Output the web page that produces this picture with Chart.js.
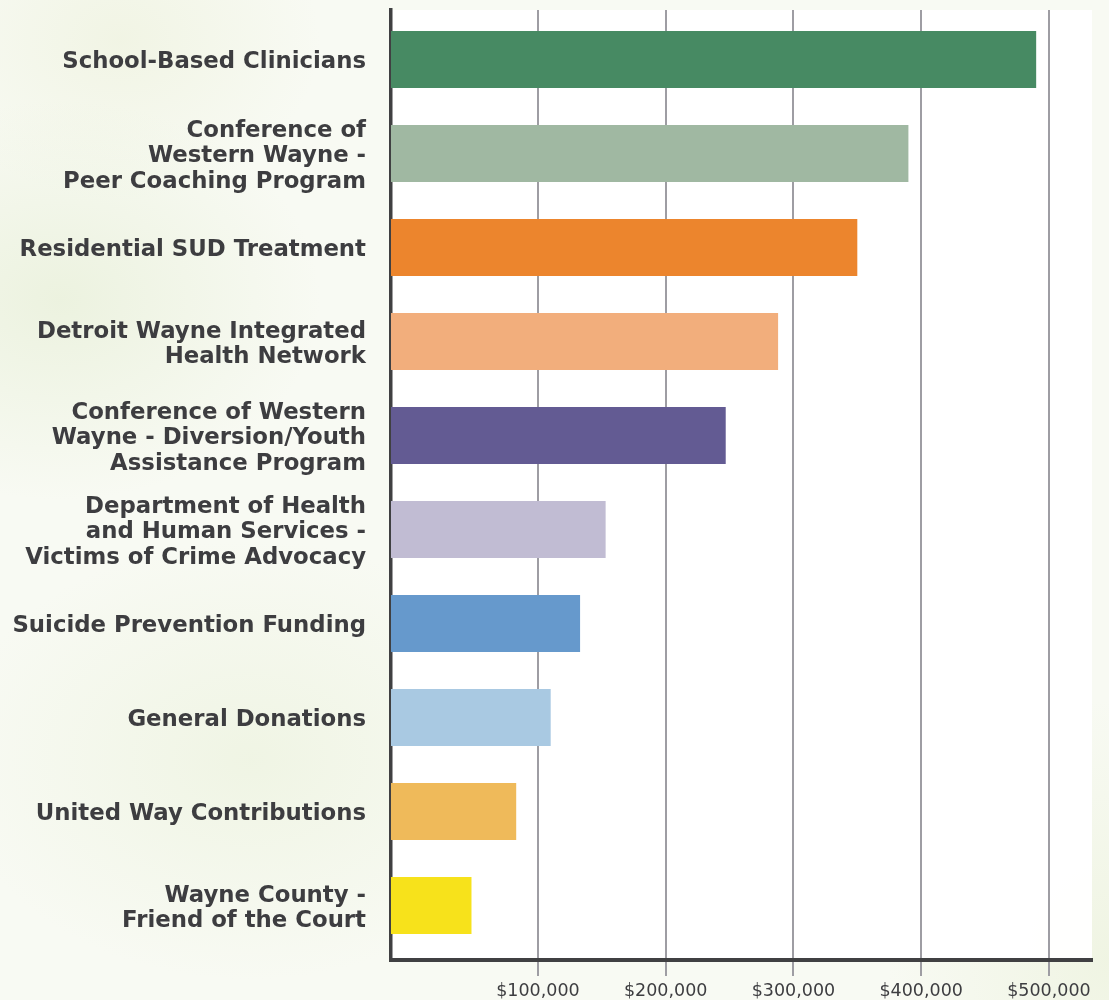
<!DOCTYPE html>
<html>
<head>
<meta charset="utf-8">
<script src="https://cdn.jsdelivr.net/npm/chart.js@4"></script>
<style>
  html, body { margin: 0; padding: 0; }
  body {
    width: 1109px; height: 1000px; overflow: hidden;
    background:
      radial-gradient(ellipse 260px 200px at 60px 300px, rgba(228,237,210,0.6), rgba(228,237,210,0) 100%),
      radial-gradient(ellipse 300px 220px at 250px 760px, rgba(234,241,218,0.6), rgba(234,241,218,0) 100%),
      radial-gradient(ellipse 200px 160px at 120px 40px, rgba(238,242,222,0.7), rgba(238,242,222,0) 100%),
      radial-gradient(ellipse 220px 260px at 1109px 960px, rgba(236,242,220,0.7), rgba(236,242,220,0) 100%),
      #f8faf3;
  }
  #wrap { position: relative; width: 1109px; height: 1000px; }
</style>
</head>
<body>
<div id="wrap"><canvas id="fundingChart"></canvas></div>
<script>
// categories, top to bottom
const categories = [
    'School-Based Clinicians',
    ['Conference of', 'Western Wayne -', 'Peer Coaching Program'],
    'Residential SUD Treatment',
    ['Detroit Wayne Integrated', 'Health Network'],
    ['Conference of Western', 'Wayne - Diversion/Youth', 'Assistance Program'],
    ['Department of Health', 'and Human Services -', 'Victims of Crime Advocacy'],
    'Suicide Prevention Funding',
    'General Donations',
    'United Way Contributions',
    ['Wayne County -', 'Friend of the Court']
];

// funding amounts ($)
const amounts = [490000, 390000, 350000, 288000, 247000, 153000, 133000, 110000, 83000, 48000];

const barColors = [
    '#478a63', '#a0b8a2', '#ec852d', '#f2ae7c', '#635b93',
    '#c1bcd3', '#6699cc', '#a9c9e2', '#efba5a', '#f7e21b'
];

const tickValues = [100000, 200000, 300000, 400000, 500000];

// axis range: the axis line sits a bit left of zero in the original
const X_MIN = -15000;
const X_MAX = 533700;

const TEXT = '#3d3d40';
const GRID = '#9e9da3';
const AXIS = '#404042';

// white plot area
const plotBg = {
    id: 'plotBg',
    beforeDraw(chart) {
        const { ctx, chartArea: a } = chart;
        ctx.save();
        ctx.fillStyle = 'rgba(255,255,255,0.96)';
        ctx.fillRect(a.left, a.top, a.right - a.left, a.bottom - a.top);
        ctx.restore();
    }
};

const ctx = document.getElementById('fundingChart');
new Chart(ctx, {
    type: 'bar',
    data: {
        datasets: [{
            data: amounts.map((v, i) => ({ x: v, y: i })),
            backgroundColor: barColors,
            base: X_MIN,
            borderWidth: 0,
            categoryPercentage: 1,
            barPercentage: 0.607
        }]
    },
    options: {
        indexAxis: 'y',
        responsive: true,
        maintainAspectRatio: false,
        animation: false,
        layout: { padding: { top: 10, right: 17, left: 0, bottom: 0 } },
        plugins: {
            legend: { display: false },
            tooltip: { enabled: false }
        },
        scales: {
            x: {
                type: 'linear',
                min: X_MIN,
                max: X_MAX,
                afterBuildTicks: s => { s.ticks = tickValues.map(v => ({ value: v })); },
                afterFit: s => { s.height = 40; s.paddingLeft = 0; s.paddingRight = 0; },
                grid: { color: GRID, lineWidth: 2, tickLength: 16, drawTicks: true },
                border: { display: true, color: AXIS, width: 4 },
                ticks: {
                    autoSkip: false,
                    maxRotation: 0,
                    padding: 5,
                    color: TEXT,
                    font: { family: 'DejaVu Sans', size: 17.5, weight: '400' },
                    callback: v => '$' + v.toLocaleString('en-US')
                }
            },
            y: {
                type: 'linear',
                reverse: true,
                offset: false,
                min: -0.527,
                max: 9.58,
                afterBuildTicks: s => { s.ticks = categories.map((c, i) => ({ value: i })); },
                afterFit: s => { s.width = 391; s.paddingTop = 0; s.paddingBottom = 0; },
                grid: { offset: false, drawOnChartArea: false, drawTicks: false },
                border: { display: true, color: AXIS, width: 3.5 },
                ticks: {
                    autoSkip: false,
                    padding: 25,
                    labelOffset: 3,
                    color: TEXT,
                    font: { family: 'DejaVu Sans', size: 22.8, weight: 'bold', lineHeight: 1.1 },
                    callback: v => categories[v]
                }
            }
        }
    },
    plugins: [plotBg]
});
</script>
</body>
</html>
